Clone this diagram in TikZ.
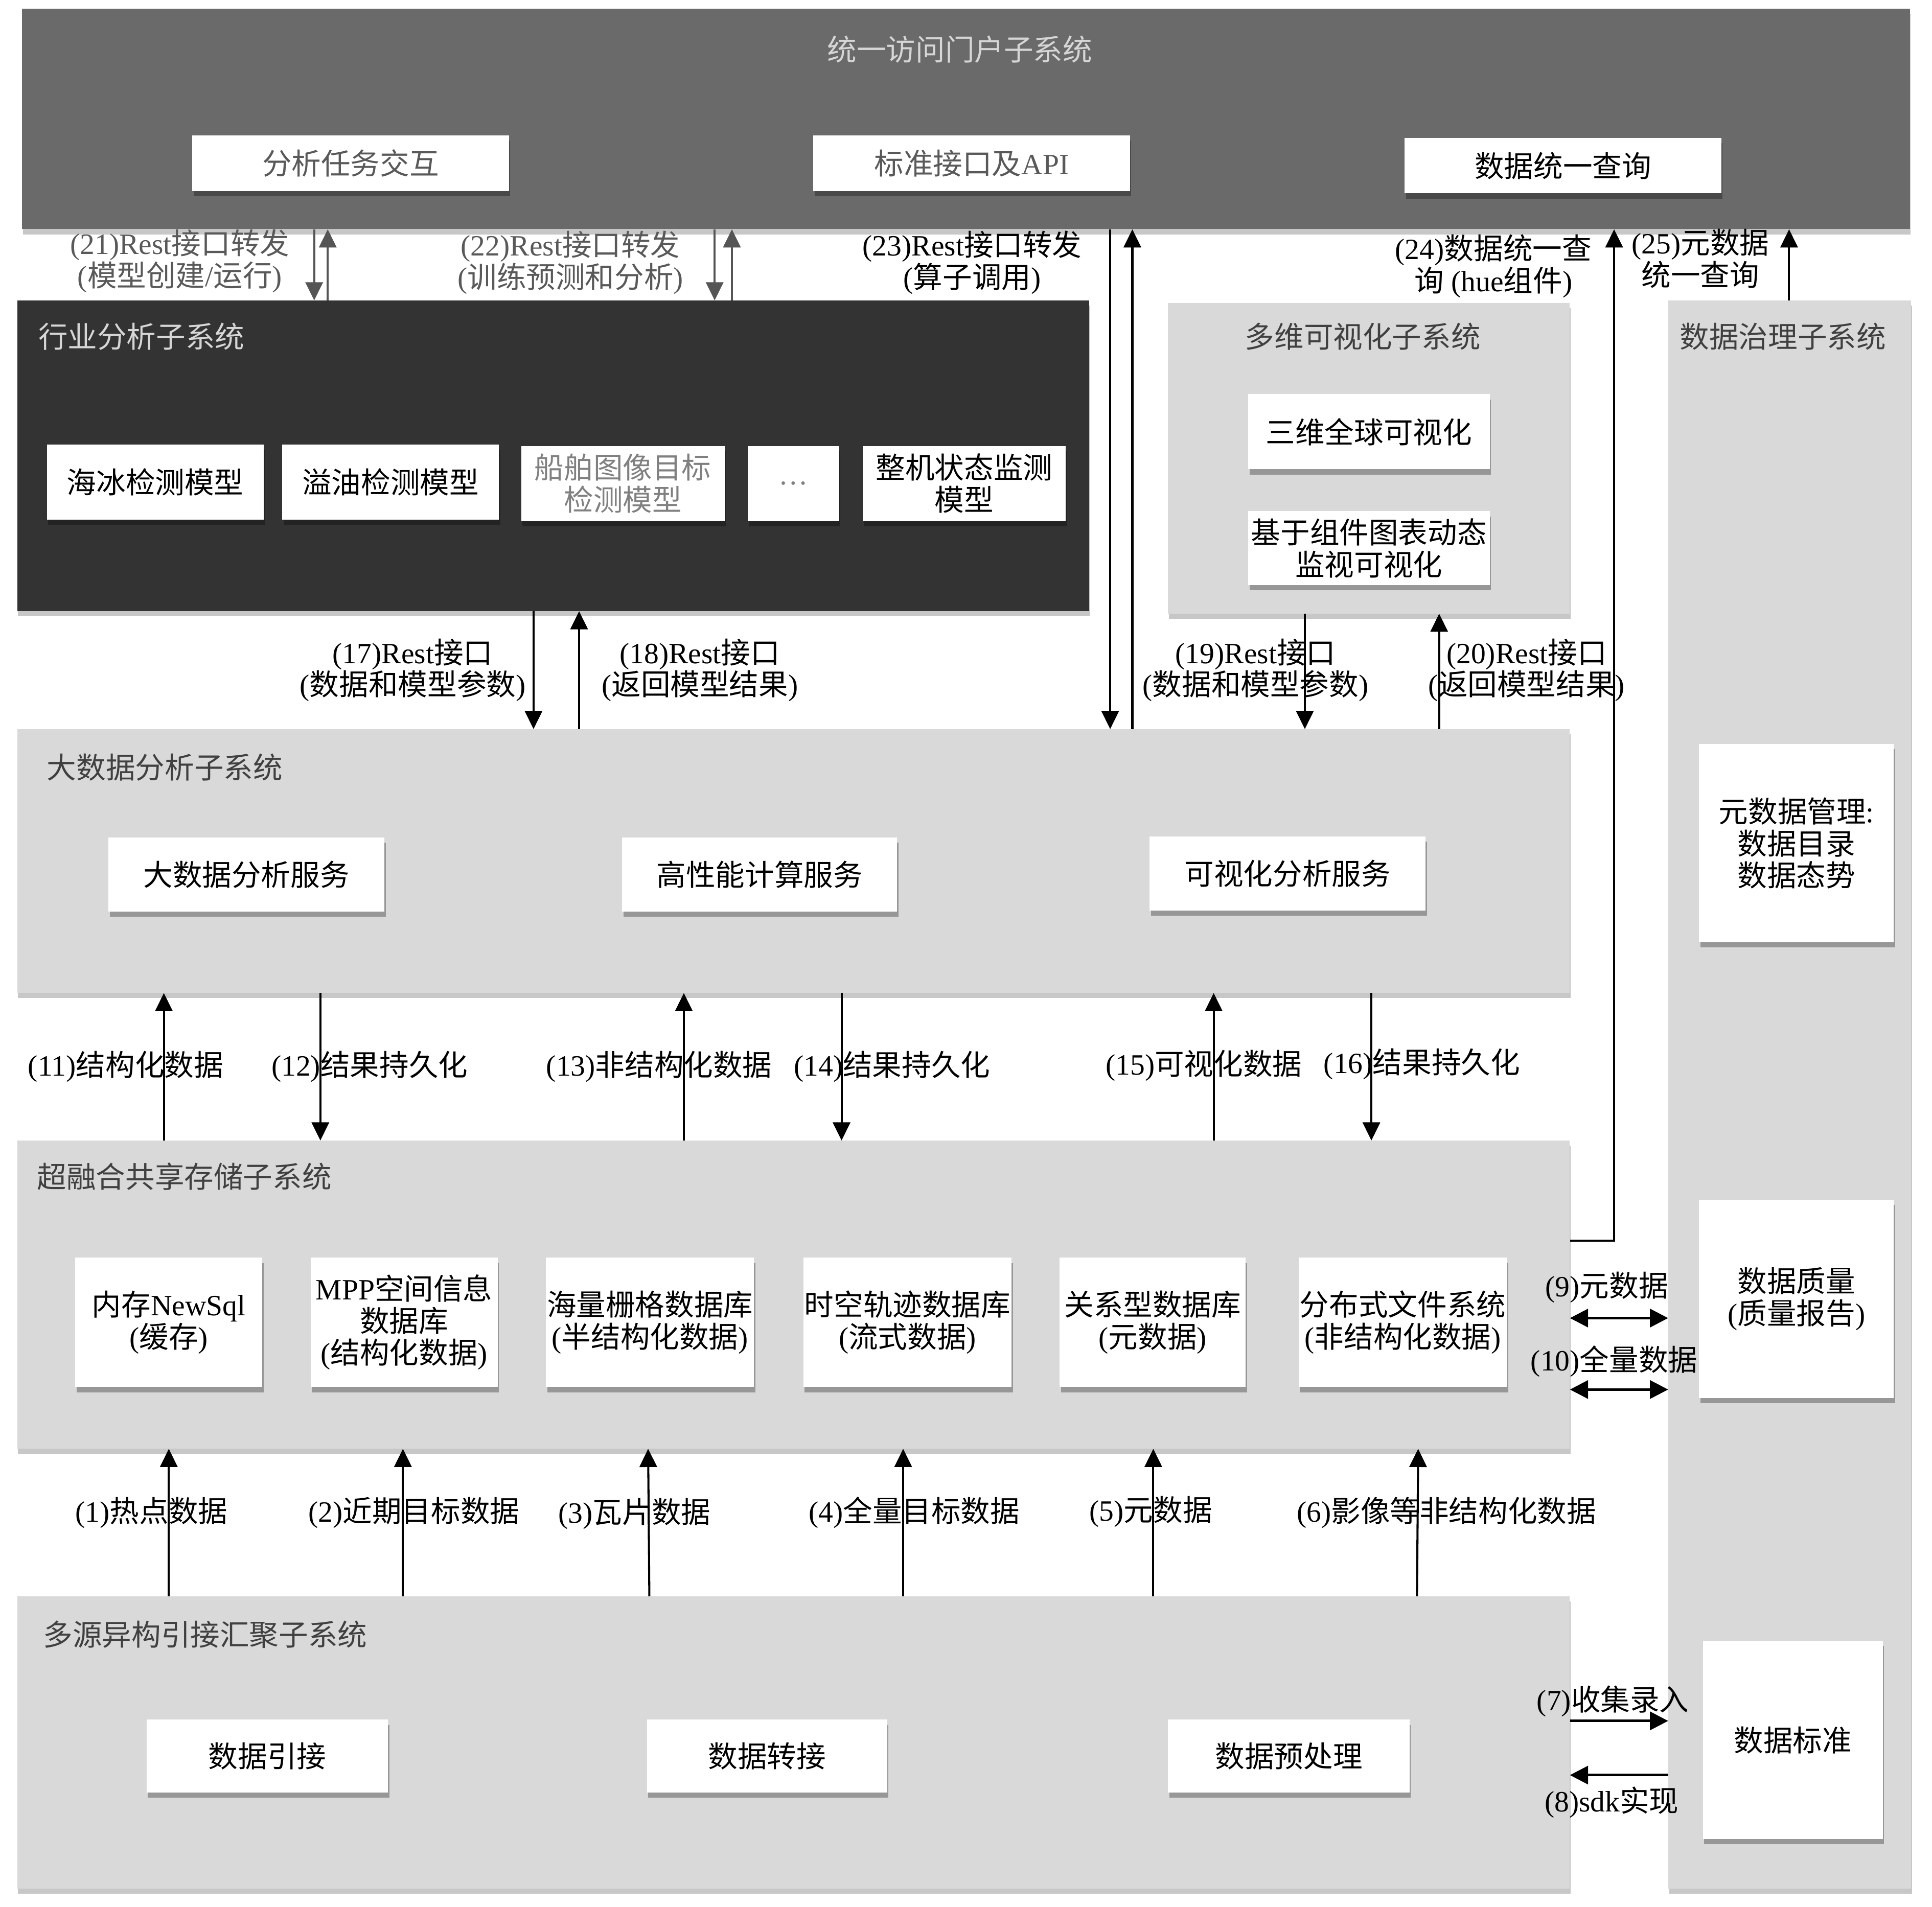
\documentclass[tikz,border=0pt]{standalone}
\usepackage{fontspec}
\setmainfont{Liberation Serif}
\newfontfamily\cjkfont{Noto Sans CJK SC}
\usetikzlibrary{arrows.meta,shadows}
\XeTeXinterchartokenstate=1
\newXeTeXintercharclass\CJKcls
\newcount\cjkcnt
\cjkcnt="4E00
\loop\ifnum\cjkcnt<"A000
  \XeTeXcharclass\cjkcnt=\CJKcls
  \advance\cjkcnt by 1
\repeat
\XeTeXinterchartoks 0 \CJKcls = {\cjkfont}
\XeTeXinterchartoks 4095 \CJKcls = {\cjkfont}
\XeTeXinterchartoks \CJKcls 0 = {\rmfamily}
\XeTeXinterchartoks \CJKcls 4095 = {\rmfamily}
\definecolor{portal}{HTML}{6A6A6A}
\definecolor{darkbox}{HTML}{333333}
\definecolor{lgray}{HTML}{D9D9D9}
\definecolor{tlight}{HTML}{D6D6D6}
\definecolor{tdark}{HTML}{404040}
\definecolor{tgray}{HTML}{595959}
\definecolor{tmid}{HTML}{808080}
\definecolor{agray}{HTML}{555555}
% box from (x1,y1) to (x2,y2): \bx{name}{style}{x1}{y1}{x2}{y2}{text}
\newcommand\bx[7]{\node[#2, minimum width={(#5-#3)*0.05cm}, minimum height={(#6-#4)*0.05cm}] (#1) at ({(#3+#5)/2},{(#4+#6)/2}) {#7};}
\begin{document}
\begin{tikzpicture}[x=0.05cm,y=-0.05cm,
  txt/.style={font=\fontsize{34}{37}\selectfont},
  sys/.style={inner sep=0pt, draw=none, drop shadow={shadow xshift=1pt,shadow yshift=-6pt,opacity=0.22,fill=black}},
  wbox/.style={fill=white, inner sep=0pt, align=center, txt, drop shadow={shadow xshift=1.5pt,shadow yshift=-6pt,opacity=0.3,fill=black}},
  ttl/.style={txt, anchor=west, inner sep=0pt, text=tdark},
  lbl/.style={txt, align=center, inner sep=0pt},
  arr/.style={line width=2.4pt, -{Triangle[length=21pt,width=20pt]}},
  garr/.style={arr, draw=agray, fill=agray},
  tarr/.style={line width=3pt, -{Triangle[length=21pt,width=21pt]}},
  tdarr/.style={line width=3pt, {Triangle[length=21pt,width=21pt]}-{Triangle[length=21pt,width=21pt]}}
]
\useasboundingbox[fill=white] (0,0) rectangle (1568,1548);

% ---------- portal ----------
\bx{portal}{sys, fill=portal}{18}{7}{1550}{186}{}
\node[txt, text=tlight, inner sep=0pt] (portalT) at (779,40) {统一访问门户子系统};
\bx{p1}{wbox, text=tgray}{156}{110}{413}{155}{分析任务交互}
\bx{p2}{wbox, text=tgray}{660}{110}{917}{155}{标准接口及API}
\bx{p3}{wbox}{1140}{112}{1397}{157}{数据统一查询}

% ---------- industry analysis ----------
\bx{hy}{sys, fill=darkbox}{14}{244}{884}{496}{}
\node[ttl, text=tlight] (hyT) at (31,273) {行业分析子系统};
\bx{m1}{wbox}{38}{361}{214}{422}{海冰检测模型}
\bx{m2}{wbox}{229}{361}{405}{422}{溢油检测模型}
\bx{m3}{wbox, text=tmid}{423}{362}{588}{423}{船舶图像目标\\检测模型}
\bx{m4}{wbox, text=tmid}{607}{362}{681}{423}{…}
\bx{m5}{wbox}{700}{362}{865}{423}{整机状态监测\\模型}

% ---------- visualization ----------
\bx{dw}{sys, fill=lgray}{948}{246}{1274}{498}{}
\node[txt, text=tdark, inner sep=0pt] (dwT) at (1106,273) {多维可视化子系统};
\bx{v1}{wbox}{1013}{320}{1209}{381}{三维全球可视化}
\bx{v2}{wbox}{1013}{415}{1209}{475}{基于组件图表动态\\监视可视化}

% ---------- governance ----------
\bx{zl}{sys, fill=lgray}{1354}{244}{1551}{1533}{}
\node[txt, text=tdark, inner sep=0pt] (zlT) at (1447,273) {数据治理子系统};
\bx{g1}{wbox}{1379}{604}{1537}{765}{元数据管理:\\数据目录\\数据态势}
\bx{g2}{wbox}{1379}{974}{1537}{1135}{数据质量\\(质量报告)}
\bx{g3}{wbox}{1382}{1332}{1528}{1493}{数据标准}

% ---------- big data ----------
\bx{dsj}{sys, fill=lgray}{14}{592}{1274}{806}{}
\node[ttl] (dsjT) at (38,623) {大数据分析子系统};
\bx{s1}{wbox}{88}{680}{312}{740}{大数据分析服务}
\bx{s2}{wbox}{505}{680}{728}{740}{高性能计算服务}
\bx{s3}{wbox}{933}{679}{1157}{739}{可视化分析服务}

% ---------- storage ----------
\bx{cr}{sys, fill=lgray}{14}{926}{1274}{1176}{}
\node[ttl] (crT) at (30,955) {超融合共享存储子系统};
\bx{c1}{wbox}{61}{1021}{213}{1126}{内存NewSql\\(缓存)}
\bx{c2}{wbox}{252}{1021}{404}{1126}{MPP空间信息\\数据库\\(结构化数据)}
\bx{c3}{wbox}{443}{1021}{612}{1126}{海量栅格数据库\\(半结构化数据)}
\bx{c4}{wbox}{652}{1021}{821}{1126}{时空轨迹数据库\\(流式数据)}
\bx{c5}{wbox}{860}{1021}{1011}{1126}{关系型数据库\\(元数据)}
\bx{c6}{wbox}{1054}{1021}{1223}{1126}{分布式文件系统\\(非结构化数据)}

% ---------- ingestion ----------
\bx{dy}{sys, fill=lgray}{14}{1296}{1274}{1533}{}
\node[ttl] (dyT) at (35,1327) {多源异构引接汇聚子系统};
\bx{d1}{wbox}{119}{1396}{315}{1455}{数据引接}
\bx{d2}{wbox}{525}{1396}{720}{1455}{数据转接}
\bx{d3}{wbox}{948}{1396}{1144}{1455}{数据预处理}

% ---------- connectors: portal ----------
\draw[garr] (portal.south -| 255,0) -- (hy.north -| 255,0);
\draw[garr] (hy.north -| 266,0) -- (portal.south -| 266,0);
\draw[garr] (portal.south -| 580,0) -- (hy.north -| 580,0);
\draw[garr] (hy.north -| 594,0) -- (portal.south -| 594,0);
\draw[arr] (portal.south -| 901,0) -- (dsj.north -| 901,0);
\draw[arr] (dsj.north -| 919,0) -- (portal.south -| 919,0);
\draw[arr] (cr.east |- 0,1007) -| (portal.south -| 1310,0);
\draw[arr] (zl.north -| 1452,0) -- (portal.south -| 1452,0);

\node[lbl, text=tgray] (l21) at (146,212) {(21)Rest接口转发\\(模型创建/运行)};
\node[lbl, text=tgray] (l22) at (463,213) {(22)Rest接口转发\\(训练预测和分析)};
\node[lbl] (l23) at (789,213) {(23)Rest接口转发\\(算子调用)};
\node[lbl] (l24) at (1212,216) {(24)数据统一查\\询 (hue组件)};
\node[lbl] (l25) at (1380,210) {(25)元数据\\统一查询};

% ---------- industry / vis <-> big data ----------
\draw[arr] (hy.south -| 433,0) -- (dsj.north -| 433,0);
\draw[arr] (dsj.north -| 470,0) -- (hy.south -| 470,0);
\draw[arr] (dw.south -| 1059,0) -- (dsj.north -| 1059,0);
\draw[arr] (dsj.north -| 1168,0) -- (dw.south -| 1168,0);
\node[lbl] (l17) at (335,544) {(17)Rest接口\\(数据和模型参数)};
\node[lbl] (l18) at (568,544) {(18)Rest接口\\(返回模型结果)};
\node[lbl] (l19) at (1019,544) {(19)Rest接口\\(数据和模型参数)};
\node[lbl] (l20) at (1239,544) {(20)Rest接口\\(返回模型结果)};

% ---------- big data <-> storage ----------
\draw[arr] (cr.north -| 133,0) -- (dsj.south -| 133,0);
\draw[arr] (dsj.south -| 260,0) -- (cr.north -| 260,0);
\draw[arr] (cr.north -| 555,0) -- (dsj.south -| 555,0);
\draw[arr] (dsj.south -| 683,0) -- (cr.north -| 683,0);
\draw[arr] (cr.north -| 985,0) -- (dsj.south -| 985,0);
\draw[arr] (dsj.south -| 1113,0) -- (cr.north -| 1113,0);
\node[lbl] (l11) at (102,866) {(11)结构化数据};
\node[lbl] (l12) at (300,866) {(12)结果持久化};
\node[lbl] (l13) at (535,866) {(13)非结构化数据};
\node[lbl] (l14) at (724,866) {(14)结果持久化};
\node[lbl] (l15) at (977,865) {(15)可视化数据};
\node[lbl] (l16) at (1154,864) {(16)结果持久化};

% ---------- ingestion -> storage ----------
\draw[arr] (dy.north -| 137,0) -- (cr.south -| 137,0);
\draw[arr] (dy.north -| 327,0) -- (cr.south -| 327,0);
\draw[arr] (dy.north -| 527,0) -- (cr.south -| 526,0);
\draw[arr] (dy.north -| 733,0) -- (cr.south -| 733,0);
\draw[arr] (dy.north -| 936,0) -- (cr.south -| 936,0);
\draw[arr] (dy.north -| 1150,0) -- (cr.south -| 1151,0);
\node[lbl] (l1) at (123,1228) {(1)热点数据};
\node[lbl] (l2) at (336,1228) {(2)近期目标数据};
\node[lbl] (l3) at (515,1229) {(3)瓦片数据};
\node[lbl] (l4) at (742,1228) {(4)全量目标数据};
\node[lbl] (l5) at (934,1227) {(5)元数据};
\node[lbl] (l6) at (1174,1228) {(6)影像等非结构化数据};

% ---------- governance links ----------
\draw[tdarr] (cr.east |- 0,1070) -- (zl.west |- 0,1070);
\draw[tdarr] (cr.east |- 0,1128) -- (zl.west |- 0,1128);
\node[lbl] (l9) at (1304,1045) {(9)元数据};
\node[lbl] (l10) at (1310,1105) {(10)全量数据};
\draw[tarr] (dy.east |- 0,1397) -- (zl.west |- 0,1397);
\draw[tarr] (zl.west |- 0,1441) -- (dy.east |- 0,1441);
\node[lbl] (l7) at (1309,1381) {(7)收集录入};
\node[lbl] (l8) at (1308,1463) {(8)sdk实现};
\end{tikzpicture}
\end{document}
